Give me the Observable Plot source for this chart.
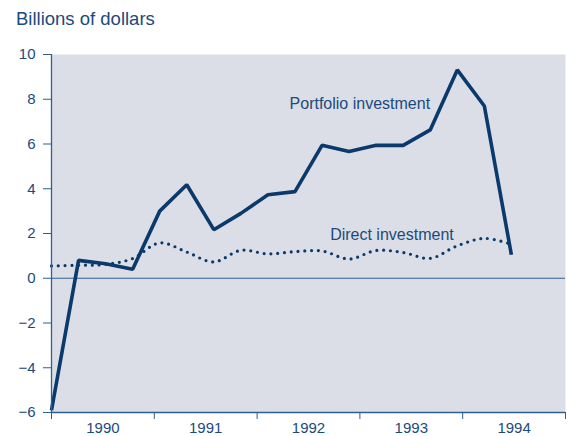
<!DOCTYPE html>
<html>
<head>
<meta charset="utf-8">
<script src="https://cdn.jsdelivr.net/npm/d3@7"></script>
<script src="https://cdn.jsdelivr.net/npm/@observablehq/plot@0.6"></script>
<style>
  html, body { margin: 0; padding: 0; background: #ffffff; }
  #wrap { position: relative; width: 569px; height: 436px; font-family: "Liberation Sans", Arial, sans-serif; color: #1b4a7d; }
  #title { position: absolute; left: 16px; top: 8px; font-size: 18.5px; line-height: 22px; }
  #chart { position: absolute; left: 0; top: 0; }
</style>
</head>
<body>
<div id="wrap">
  <div id="chart"></div>
  <div id="title">Billions of dollars</div>
</div>
<script>
// Period index (quarterly observations)
const periods = [0, 1, 2, 3, 4, 5, 6, 7, 8, 9, 10, 11, 12, 13, 14, 15, 16, 17];
const portfolio = [-5.9, 0.8, 0.65, 0.4, 3.0, 4.18, 2.17, 2.9, 3.73, 3.87, 5.94, 5.66, 5.94, 5.94, 6.63, 9.31, 7.7, 1.05];
const direct = [0.55, 0.58, 0.62, 0.88, 1.58, 1.17, 0.73, 1.25, 1.09, 1.19, 1.22, 0.86, 1.24, 1.15, 0.89, 1.45, 1.78, 1.52];
const yearLabels = ["1990", "1991", "1992", "1993", "1994"];
const yearEdges = [0, 3.8, 7.6, 11.4, 15.2, 19];
const yTicks = [-6, -4, -2, 0, 2, 4, 6, 8, 10];
const seriesLabels = [
  {name: "Portfolio investment", x: 8.8, y: 7.8},
  {name: "Direct investment", x: 10.3, y: 1.95}
];

const portfolioData = periods.map((p, i) => ({p, v: portfolio[i]}));
const directData = periods.map((p, i) => ({p, v: direct[i]}));
const yearMids = yearLabels.map((l, i) => ({l, m: (yearEdges[i] + yearEdges[i + 1]) / 2}));

const ink = "#1b4a7d";
const lineCol = "#0a3a6c";

const chart = Plot.plot({
  width: 569,
  height: 436,
  marginTop: 54,
  marginBottom: 24,
  marginLeft: 51,
  marginRight: 4,
  style: {fontFamily: "'Liberation Sans', Arial, sans-serif", fontSize: "15px", color: ink, background: "transparent", overflow: "visible"},
  x: {domain: [0, 19]},
  y: {domain: [-6, 10]},
  marks: [
    Plot.frame({fill: "#dcdee7", stroke: null}),
    Plot.ruleY([0], {stroke: "#2f5f91", strokeWidth: 1.2}),
    Plot.line(directData, {x: "p", y: "v", stroke: lineCol, strokeWidth: 3.2, strokeDasharray: "0 6.8", strokeLinecap: "round", curve: "catmull-rom"}),
    Plot.line(portfolioData, {x: "p", y: "v", stroke: lineCol, strokeWidth: 3.6, strokeLinejoin: "miter", strokeLinecap: "butt"}),
    Plot.text(seriesLabels, {x: "x", y: "y", text: "name", fill: ink, fontSize: 16, textAnchor: "start"}),
    Plot.axisY({ticks: yTicks, tickSize: 8, tickPadding: 8, stroke: "#2f5f91", tickFormat: d => d < 0 ? "\u2212" + Math.abs(d) : String(d)}),
    Plot.axisX({ticks: yearEdges, tickSize: 7, tickFormat: () => "", stroke: "#2f5f91"}),
    Plot.axisX(yearMids.map(d => d.m), {tickSize: 0, tickPadding: 10, tickFormat: (d, i) => yearLabels[i], label: null}),
    Plot.ruleX([0], {stroke: "#2f5f91", strokeWidth: 1.3}),
    Plot.ruleY([-6], {stroke: "#2f5f91", strokeWidth: 1.3})
  ]
});
document.getElementById("chart").appendChild(chart);
</script>
</body>
</html>
